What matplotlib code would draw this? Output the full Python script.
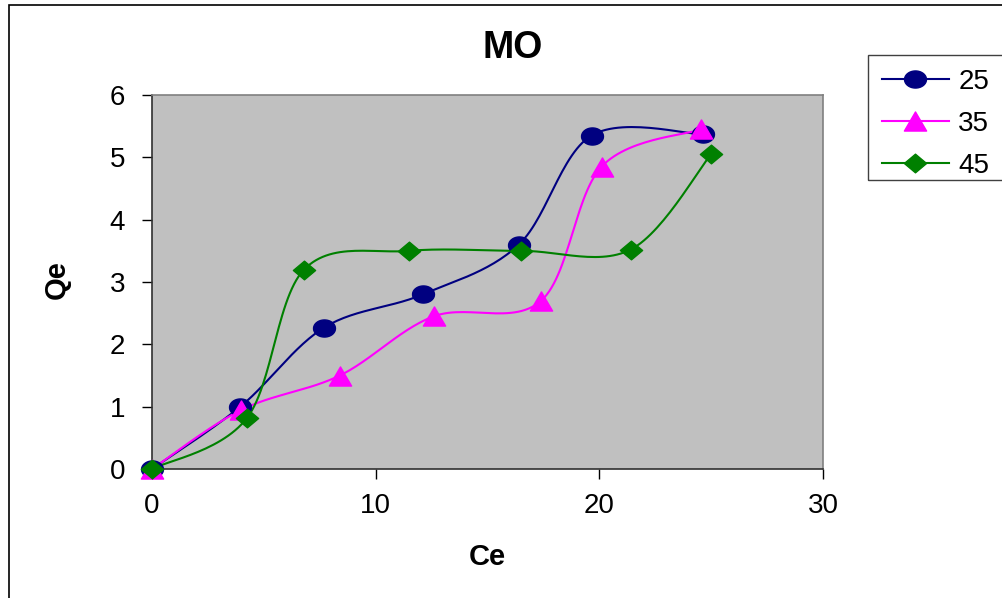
import numpy as np
import matplotlib.pyplot as plt
from matplotlib.patches import Rectangle
from matplotlib.path import Path

plt.rcParams['font.family'] = ['Liberation Sans', 'DejaVu Sans']

ce_25 = [0, 3.95, 7.7, 12.1, 16.4, 19.65, 24.65]
qe_25 = [0, 1.0, 2.27, 2.8, 3.6, 5.35, 5.37]
ce_35 = [0, 4.0, 8.4, 12.6, 17.4, 20.1, 24.55]
qe_35 = [0, 0.95, 1.5, 2.45, 2.7, 4.85, 5.45]
ce_45 = [0, 4.25, 6.8, 11.5, 16.5, 21.4, 25.0]
qe_45 = [0, 0.82, 3.2, 3.5, 3.5, 3.52, 5.05]

# the reference is stretched sideways a bit, so markers are a little wider than tall
_t = np.linspace(0, 2 * np.pi, 40)
ellipse = Path(np.column_stack([0.5 * np.cos(_t), 0.39 * np.sin(_t)]), closed=True)
triangle = Path([(0, 0.43), (-0.5, -0.43), (0.5, -0.43), (0, 0.43)], closed=True)
diamond = Path([(0, 0.42), (-0.5, 0), (0, -0.42), (0.5, 0), (0, 0.42)], closed=True)

series = [
    ('25', ce_25, qe_25, '#000080', ellipse, 15.8),
    ('35', ce_35, qe_35, '#FF00FF', triangle, 16.0),
    ('45', ce_45, qe_45, '#008000', diamond, 16.0),
]


def smooth(x, y, n=30):
    """excel-ish smoothed line: catmull-rom bezier segments"""
    x = np.asarray(x, float)
    y = np.asarray(y, float)
    px = np.concatenate([[x[0]], x, [x[-1]]])
    py = np.concatenate([[y[0]], y, [y[-1]]])
    t = np.linspace(0, 1, n)[:, None]
    xs, ys = [], []
    for i in range(1, len(px) - 2):
        p0 = np.array([px[i], py[i]])
        p3 = np.array([px[i + 1], py[i + 1]])
        p1 = p0 + (np.array([px[i + 1], py[i + 1]]) - np.array([px[i - 1], py[i - 1]])) / 6
        p2 = p3 - (np.array([px[i + 2], py[i + 2]]) - np.array([px[i], py[i]])) / 6
        b = ((1 - t) ** 3) * p0 + 3 * ((1 - t) ** 2) * t * p1 + 3 * (1 - t) * t ** 2 * p2 + t ** 3 * p3
        xs.append(b[:, 0])
        ys.append(b[:, 1])
    return np.concatenate(xs), np.concatenate(ys)


fig = plt.figure(figsize=(10.03, 5.98), dpi=100)
ax = fig.add_axes([152 / 1003, 1 - 469 / 598, (823 - 152) / 1003, (469 - 95) / 598])
ax.set_facecolor('#C0C0C0')

handles = []
for name, xv, yv, col, mk, ms in series:
    sx, sy = smooth(xv, yv)
    ax.plot(sx, sy, color=col, lw=1.5, clip_on=False, zorder=3)
    ax.plot(xv, yv, ls='none', marker=mk, color=col, ms=ms, clip_on=False, zorder=4)
    h, = ax.plot([], [], color=col, lw=1.5, marker=mk, ms=ms)
    handles.append(h)

ax.set_xlim(0, 30)
ax.set_ylim(0, 6)
ax.set_xticks([0, 10, 20, 30])
ax.set_yticks(range(7))
ax.tick_params(axis='both', labelsize=20, length=7.5, width=1, direction='out')
ax.tick_params(axis='x', pad=10)
ax.tick_params(axis='y', pad=12)
for side in ['top', 'right']:
    ax.spines[side].set_color('#808080')
    ax.spines[side].set_linewidth(1.2)
for side in ['left', 'bottom']:
    ax.spines[side].set_color('#303030')
    ax.spines[side].set_linewidth(1.2)

xl = ax.set_xlabel('Ce', fontsize=21, fontweight='bold')
ax.xaxis.set_label_coords(0.5, (469 - 557) / 374)
xl.set_va('center')
yl = ax.set_ylabel('Qe', fontsize=21, fontweight='bold')
ax.yaxis.set_label_coords((57 - 152) / 671, (469 - 280) / 374)
yl.set_va('center')
fig.text(513 / 1003, 1 - 48 / 598, 'MO', fontsize=27, fontweight='bold', ha='center', va='center')

leg = fig.legend(handles, [s[0] for s in series], loc='upper left',
                 bbox_to_anchor=(868 / 1003, 1 - 55 / 598), fontsize=20,
                 frameon=False,
                 handlelength=2.4, borderpad=0.5, labelspacing=0.58, handletextpad=0.35,
                 borderaxespad=0)
# legend box, runs off the right edge like the reference
fig.patches.append(Rectangle((868 / 1003, 1 - 180 / 598), 0.2, 125 / 598, transform=fig.transFigure,
                             fill=False, edgecolor='#404040', lw=1.0))

# chart-area border
fig.patches.append(Rectangle((9 / 1003, -0.1), 1.2, 1 - 5 / 598 + 0.1, transform=fig.transFigure,
                             fill=False, edgecolor='black', lw=1.2))

fig.savefig('out.png', dpi=100)
